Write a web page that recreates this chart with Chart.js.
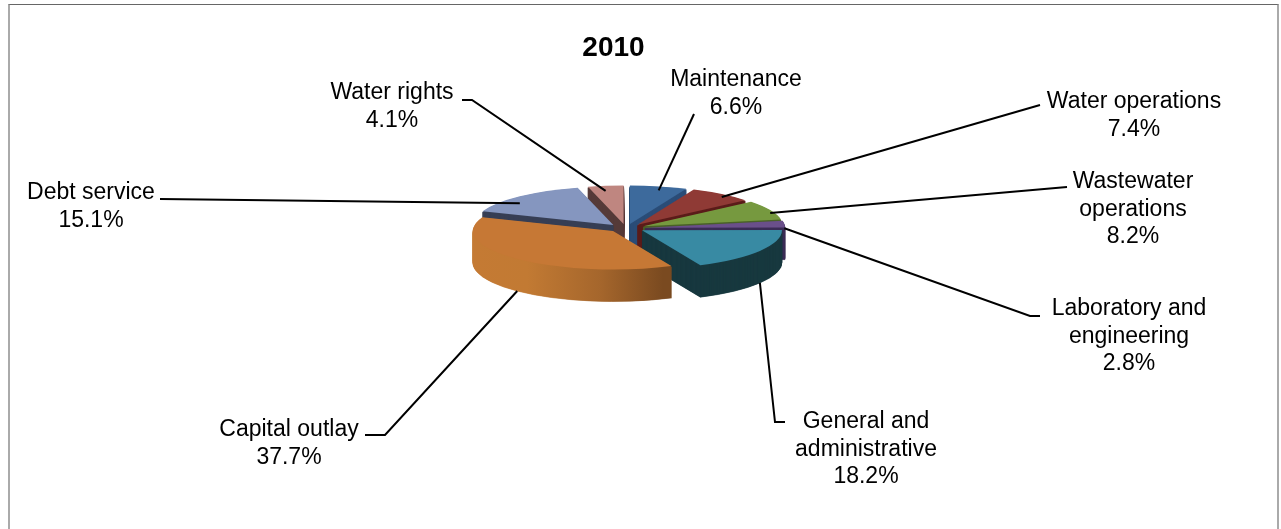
<!DOCTYPE html>
<html>
<head>
<meta charset="utf-8">
<style>
  html, body { margin: 0; padding: 0; background: #fff; overflow: hidden; }
  #frame { position: absolute; left: 8px; top: 4px; width: 1267px; height: 540px; border: 2px solid #aaa; border-top: 1px solid #666; }
  canvas { position: absolute; left: 0; top: 0; }
</style>
</head>
<body>
<div id="frame"></div>
<canvas id="my-chart" width="1281" height="529"></canvas>
<script src="https://cdn.jsdelivr.net/npm/chart.js@4/dist/chart.umd.min.js"></script>
<script>
const categories = ['Maintenance', 'Water operations', 'Wastewater operations', 'Laboratory and engineering', 'General and administrative', 'Capital outlay', 'Debt service', 'Water rights']
const shares = [6.6, 7.4, 8.2, 2.8, 18.2, 37.7, 15.1, 4.1]
const labelLines = [['Maintenance'], ['Water operations'], ['Wastewater', 'operations'], ['Laboratory and', 'engineering'], ['General and', 'administrative'], ['Capital outlay'], ['Debt service'], ['Water rights']]
const topColors = ['#3d6a9c', '#8f3a35', '#76993f', '#6a4f8a', '#388aa3', '#c67835', '#8596bf', '#bf8680']
const sideColors = ['#2b4d78', '#5b1c1a', '#4a6228', '#3b2c55', '#18383f', null, '#373f55', '#553a38']

// where each label sits: centre x, first line y, and the end of its leader
const labelPos = [[736, 80], [1134, 102], [1133, 182], [1129, 309], [866, 422], [289, 430], [91, 193], [392, 93]]
const leaderEnd = [[694, 114], [1040, 105], [1067, 187], [1040, 316], [785, 422], [365, 435], [160, 199], [462, 100]]
const leaderTail = [[694, 114], [1040, 105], [1067, 187], [1030, 316], [775, 422], [385, 435], [160, 199], [472, 100]]
const leaderDrop = [4, 3, 3, 4, 0, 0, 7, 5]

const pieX = 626, pieY = 228, radius = 140, explode = 19, explodeY = 4, squash = 0.275, depth = 32

const pie3d = {
    id: 'pie3d',
    beforeDatasetsDraw(chart) {
        const ctx = chart.ctx
        const arcs = chart.getDatasetMeta(0).data
        const midOf = (arc) => (arc.startAngle + arc.endAngle) / 2
        const order = arcs.map((a, i) => i).sort((a, b) => Math.sin(midOf(arcs[a])) - Math.sin(midOf(arcs[b])))
        order.forEach((i) => {
            const arc = arcs[i]
            const mid = midOf(arc)
            const place = (d) => ctx.setTransform(1, 0, 0, squash,
                pieX + Math.cos(mid) * explode - arc.x,
                pieY + Math.sin(mid) * explodeY + d - arc.y * squash)
            place(0)
            let side = sideColors[i]
            if (!side) {
                side = ctx.createLinearGradient(arc.x - radius - explode, 0, arc.x + 50, 0)
                side.addColorStop(0, '#c57a34')
                side.addColorStop(0.35, '#c27a33')
                side.addColorStop(0.7, '#a5662c')
                side.addColorStop(1, '#7a4a20')
            }
            const wall = Object.create(arc)
            wall.options = { ...arc.options, backgroundColor: side, borderColor: side, borderWidth: 1 }
            for (let d = depth; d >= 1; d -= 0.5) {
                place(d)
                wall.draw(ctx)
            }
            place(0)
            arc.draw(ctx)
        })
        ctx.setTransform(1, 0, 0, 1, 0, 0)

        ctx.strokeStyle = '#000'
        ctx.lineWidth = 2
        ctx.fillStyle = '#000'
        ctx.font = '23px "Liberation Sans", Arial, sans-serif'
        ctx.textAlign = 'center'
        ctx.textBaseline = 'middle'
        arcs.forEach((arc, i) => {
            const mid = midOf(arc)
            const ax = pieX + Math.cos(mid) * (radius + explode)
            let ay = pieY + Math.sin(mid) * (radius * squash + explodeY) + leaderDrop[i]
            if (Math.sin(mid) > 0.3) ay += depth
            ctx.beginPath()
            ctx.moveTo(ax, ay)
            ctx.lineTo(leaderTail[i][0], leaderTail[i][1])
            ctx.lineTo(leaderEnd[i][0], leaderEnd[i][1])
            ctx.stroke()
            const lines = labelLines[i].concat(shares[i].toFixed(1) + '%')
            lines.forEach((line, n) => ctx.fillText(line, labelPos[i][0], labelPos[i][1] + n * 27.3))
        })
        return false
    }
}

new Chart(document.getElementById('my-chart'), {
    type: 'pie',
    data: {
        labels: categories,
        datasets: [{
            data: shares,
            backgroundColor: topColors,
            borderWidth: 0
        }]
    },
    options: {
        responsive: false,
        animation: false,
        radius: radius,
        layout: { padding: { right: 54, top: 31 } },
        plugins: {
            legend: { display: false },
            tooltip: { enabled: false },
            title: {
                display: true,
                text: '2010',
                color: '#000',
                font: { family: '"Liberation Sans", Arial, sans-serif', size: 28, weight: 'bold' },
                padding: 0
            }
        }
    },
    plugins: [pie3d]
})
</script>
</body>
</html>
